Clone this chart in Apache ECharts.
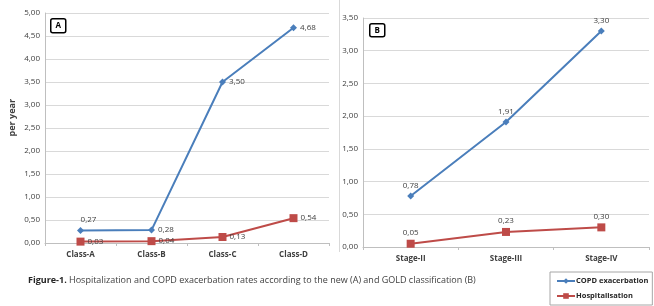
<!DOCTYPE html>
<html>
<head>
<meta charset="utf-8">
<script src="https://cdn.jsdelivr.net/npm/echarts@6/dist/echarts.min.js"></script>
<style>
  html, body { margin: 0; padding: 0; background: #ffffff; }
  #chart { width: 654px; height: 306px; }
</style>
</head>
<body>
<div id="chart"></div>
<script>
// panel A: new classification
const classCats = ['Class-A', 'Class-B', 'Class-C', 'Class-D']
const classCopd = [0.27, 0.28, 3.50, 4.68]
const classHosp = [0.03, 0.04, 0.13, 0.54]

// panel B: GOLD stages
const stageCats = ['Stage-II', 'Stage-III', 'Stage-IV']
const stageCopd = [0.78, 1.91, 3.30]
const stageHosp = [0.05, 0.23, 0.30]

const seriesNames = ['COPD exacerbation', 'Hospitalisation']

const blue = '#4a7ebb'
const red = '#be4b48'
const txt = '#404040'
const font = 'Open Sans'

const comma = v => Number(v).toFixed(2).replace('.', ',')

const chart = echarts.init(document.getElementById('chart'))

function yAxis (idx, max) {
  return {
    gridIndex: idx,
    type: 'value',
    min: 0,
    max: max,
    interval: 0.5,
    axisLine: { show: true, lineStyle: { color: '#bfbfbf' } },
    axisTick: { show: false },
    splitLine: { lineStyle: { color: '#d9d9d9' } },
    axisLabel: { color: txt, fontFamily: font, fontSize: 8, margin: 5, formatter: comma }
  }
}

function xAxis (idx, cats) {
  return {
    gridIndex: idx,
    type: 'category',
    data: cats,
    axisLine: { lineStyle: { color: '#bfbfbf' } },
    axisTick: { show: true, length: 3, lineStyle: { color: '#bfbfbf' } },
    axisLabel: { color: txt, fontFamily: font, fontSize: 8, fontWeight: 'bold', margin: 8 }
  }
}

function lineSeries (name, idx, data, color, symbol, size, pos) {
  return {
    name: name,
    type: 'line',
    xAxisIndex: idx,
    yAxisIndex: idx,
    data: data,
    symbol: symbol,
    symbolSize: size,
    color: color,
    lineStyle: { color: color, width: 2 },
    itemStyle: { color: color },
    label: {
      show: true,
      position: pos,
      distance: 3,
      color: txt,
      fontFamily: font,
      fontSize: 8,
      formatter: p => comma(p.value)
    },
    animation: false
  }
}

// first COPD label of panel A sits above its point, the others to the right
const copdA = lineSeries(seriesNames[0], 0, classCopd, blue, 'diamond', 7, 'right')
copdA.data = classCopd.map((v, i) => i === 0
  ? { value: v, label: { position: 'top', offset: [8, 0] } }
  : v)

const option = {
  animation: false,
  grid: [
    { left: 45, top: 13, width: 284, height: 230 },
    { left: 363, top: 18, width: 286, height: 229 }
  ],
  xAxis: [xAxis(0, classCats), xAxis(1, stageCats)],
  yAxis: [yAxis(0, 5), yAxis(1, 3.5)],
  legend: {
    data: seriesNames,
    orient: 'vertical',
    left: 550,
    top: 272,
    itemWidth: 18,
    itemHeight: 7,
    itemGap: 7,
    padding: [5, 4, 5, 6],
    borderColor: '#a6a6a6',
    borderWidth: 1,
    selectedMode: false,
    textStyle: { color: '#262626', fontFamily: font, fontSize: 7.5, fontWeight: 'bold', padding: [0, 0, 0, -4] }
  },
  series: [
    copdA,
    lineSeries(seriesNames[1], 0, classHosp, red, 'rect', 8, 'right'),
    lineSeries(seriesNames[0], 1, stageCopd, blue, 'diamond', 7, 'top'),
    lineSeries(seriesNames[1], 1, stageHosp, red, 'rect', 8, 'top')
  ],
  graphic: [
    {
      type: 'text',
      left: 8,
      top: 99,
      rotation: Math.PI / 2,
      style: { text: 'per year', fill: txt, font: 'bold 9px "Open Sans"' }
    },
    {
      type: 'line',
      shape: { x1: 339.5, y1: 0, x2: 339.5, y2: 252 },
      style: { stroke: '#d9d9d9', lineWidth: 1 }
    },
    {
      type: 'group',
      left: 50,
      top: 18,
      children: [
        { type: 'rect', shape: { x: 0, y: 0, width: 15, height: 14, r: 2 }, style: { fill: '#fff', stroke: '#000', lineWidth: 1.5 } },
        { type: 'text', x: 7.5, y: 7, style: { text: 'A', fill: '#000', font: 'bold 8px "Open Sans"', align: 'center', verticalAlign: 'middle' } }
      ]
    },
    {
      type: 'group',
      left: 369,
      top: 23,
      children: [
        { type: 'rect', shape: { x: 0, y: 0, width: 15, height: 13, r: 2 }, style: { fill: '#fff', stroke: '#000', lineWidth: 1.5 } },
        { type: 'text', x: 7.5, y: 6.5, style: { text: 'B', fill: '#000', font: 'bold 8px "Open Sans"', align: 'center', verticalAlign: 'middle' } }
      ]
    },
    {
      type: 'text',
      left: 28,
      top: 276,
      style: {
        text: '{b|Figure-1.} Hospitalization and COPD exacerbation rates according to the new (A) and GOLD classification (B)',
        fill: txt,
        font: '9px "Open Sans"',
        rich: { b: { fontWeight: 'bold', fontFamily: font, fontSize: 9, fill: '#262626' } }
      }
    }
  ]
}

chart.setOption(option)
</script>
</body>
</html>
